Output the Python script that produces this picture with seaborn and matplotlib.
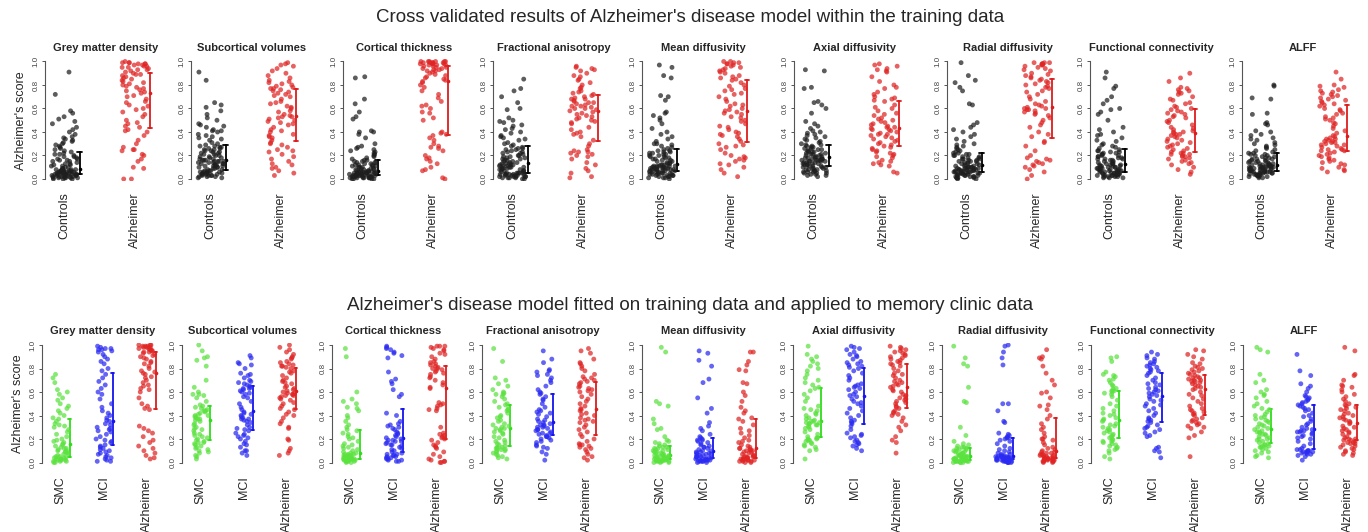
import numpy as np
import pandas as pd
import seaborn as sns
import matplotlib.pyplot as plt

# scores are typed in percent (0-100)

panel_titles = ['Grey matter density', 'Subcortical volumes', 'Cortical thickness',
                'Fractional anisotropy', 'Mean diffusivity', 'Axial diffusivity',
                'Radial diffusivity', 'Functional connectivity', 'ALFF']

top_groups = ['Controls', 'Alzheimer']
bottom_groups = ['SMC', 'MCI', 'Alzheimer']

top_title = "Cross validated results of Alzheimer's disease model within the training data"
bottom_title = ("Alzheimer's disease model fitted on training data and applied to "
                "memory clinic data")

# ---- top row: training data ----
gm_ctrl = [0, 0, 0, 1, 1, 1, 1, 1, 1, 2, 2, 2, 2, 2, 2, 3, 3, 3, 3, 3, 3, 4, 4, 4, 4,
           4, 4, 4, 5, 5, 5, 5, 5, 5, 6, 6, 6, 6, 6, 6, 7, 7, 7, 7, 7, 7, 8, 8, 8, 8,
           9, 9, 10, 10, 11, 11, 12, 12, 13, 13, 14, 15, 15, 16, 16, 17, 17, 18, 19, 19, 20, 21, 21, 22, 23,
           24, 25, 26, 27, 28, 29, 30, 31, 32, 33, 34, 35, 36, 38, 40, 42, 44, 47, 49, 51, 53, 56, 58, 72, 91]
gm_ad = [0, 0, 9, 10, 15, 17, 20, 21, 24, 25, 25, 27, 30, 33, 37, 40, 41, 42,
         44, 45, 47, 48, 50, 53, 55, 57, 59, 60, 62, 63, 65, 66, 68, 70, 71, 73,
         74, 75, 76, 77, 78, 79, 80, 81, 82, 83, 84, 85, 86, 87, 88, 89, 89, 90,
         91, 92, 93, 93, 94, 95, 95, 96, 96, 97, 97, 98, 98, 98, 99, 99, 99, 100]

sv_ctrl = [1, 1, 2, 2, 2, 3, 3, 3, 3, 4, 4, 4, 4, 5, 5, 5, 5, 6, 6, 6, 6, 7, 7, 7, 8,
           8, 9, 9, 10, 10, 10, 11, 11, 11, 12, 12, 12, 13, 13, 13, 14, 14, 14, 15, 15, 15, 15, 16, 16, 16,
           17, 17, 18, 18, 19, 19, 20, 20, 21, 21, 22, 22, 23, 23, 24, 24, 25, 25, 26, 26, 27, 27, 28, 28, 29,
           30, 31, 33, 34, 35, 36, 37, 38, 40, 41, 41, 42, 44, 45, 46, 47, 50, 52, 55, 58, 61, 63, 65, 84, 91]
sv_ad = [3, 5, 7, 9, 10, 12, 13, 15, 17, 19, 21, 23, 24, 25, 27, 29, 30, 31,
         33, 35, 36, 37, 38, 40, 41, 42, 44, 46, 47, 48, 49, 50, 51, 52, 53, 53,
         54, 55, 57, 58, 60, 61, 62, 64, 65, 66, 68, 70, 71, 72, 73, 74, 75, 76,
         77, 77, 78, 79, 80, 81, 82, 83, 84, 86, 88, 90, 92, 94, 96, 97, 98, 99]

ct_ctrl = [0, 0, 0, 0, 1, 1, 1, 1, 1, 1, 1, 2, 2, 2, 2, 2, 2, 2, 2, 3, 3, 3, 3, 3, 3,
           3, 3, 4, 4, 4, 4, 4, 4, 5, 5, 5, 5, 5, 5, 5, 6, 6, 6, 6, 6, 6, 6, 7, 7, 7,
           7, 8, 8, 8, 9, 9, 9, 10, 10, 10, 11, 11, 11, 12, 12, 12, 13, 13, 14, 14, 14, 15, 15, 16, 16,
           17, 18, 19, 20, 21, 22, 23, 24, 25, 26, 27, 28, 30, 35, 38, 40, 40, 41, 51, 53, 57, 64, 68, 86, 87]
ct_ad = [0, 1, 7, 8, 10, 13, 15, 17, 18, 20, 24, 26, 27, 28, 30, 33, 35, 37,
         38, 39, 40, 50, 52, 56, 57, 60, 62, 63, 66, 69, 72, 75, 78, 80, 82, 83,
         84, 85, 86, 87, 88, 89, 90, 91, 92, 92, 93, 93, 94, 94, 95, 95, 96, 96,
         97, 97, 97, 98, 98, 98, 98, 99, 99, 99, 99, 99, 100, 100, 100, 100, 100, 100]

fa_ctrl = [0, 0, 1, 1, 1, 1, 2, 2, 2, 2, 2, 3, 3, 3, 3, 3, 4, 4, 4, 4, 4, 5, 5, 5, 5,
           5, 6, 6, 7, 7, 7, 8, 8, 8, 9, 9, 9, 10, 10, 10, 11, 11, 11, 12, 12, 12, 13, 13, 13, 14,
           14, 15, 15, 16, 16, 17, 17, 18, 18, 19, 19, 20, 20, 21, 22, 22, 23, 23, 24, 25, 25, 26, 26, 27, 28,
           29, 30, 31, 33, 34, 35, 36, 37, 39, 40, 42, 43, 45, 46, 48, 49, 50, 52, 59, 60, 65, 70, 75, 77, 85]
fa_ad = [1, 2, 5, 7, 9, 12, 14, 17, 19, 20, 21, 22, 23, 23, 24, 25, 28, 30,
         33, 36, 38, 39, 40, 42, 44, 47, 48, 49, 50, 51, 52, 53, 54, 55, 56, 57,
         58, 59, 60, 60, 61, 62, 62, 63, 64, 65, 65, 66, 67, 68, 68, 69, 70, 71,
         72, 73, 74, 75, 77, 78, 80, 82, 84, 85, 87, 88, 90, 92, 93, 94, 95, 96]

md_ctrl = [0, 1, 1, 1, 2, 2, 2, 3, 3, 3, 3, 4, 4, 4, 4, 5, 5, 5, 5, 6, 6, 6, 6, 7, 7,
           7, 7, 8, 8, 8, 8, 8, 9, 9, 9, 9, 9, 10, 10, 10, 10, 10, 11, 11, 11, 11, 11, 12, 12, 12,
           13, 13, 14, 14, 15, 15, 16, 16, 17, 17, 18, 18, 19, 19, 20, 20, 21, 21, 22, 22, 23, 23, 24, 24, 25,
           26, 27, 28, 29, 30, 30, 32, 34, 36, 38, 40, 43, 47, 50, 52, 54, 56, 57, 67, 70, 71, 86, 88, 95, 97]
md_ad = [2, 5, 8, 10, 12, 13, 15, 16, 17, 18, 19, 20, 22, 25, 27, 28, 29, 30,
         32, 34, 36, 37, 38, 39, 40, 42, 44, 45, 47, 49, 50, 52, 53, 55, 56, 57,
         58, 59, 60, 62, 63, 64, 66, 68, 70, 72, 73, 75, 76, 77, 79, 80, 82, 84,
         85, 86, 87, 88, 90, 91, 92, 93, 94, 95, 96, 97, 98, 98, 99, 99, 100, 100]

axd_ctrl = [2, 3, 3, 4, 4, 5, 5, 5, 6, 6, 6, 7, 7, 7, 8, 8, 8, 9, 9, 9, 10, 10, 10, 11, 11,
            11, 12, 12, 12, 13, 13, 13, 14, 14, 14, 15, 15, 15, 15, 16, 16, 16, 16, 17, 17, 17, 17, 18, 18, 18,
            19, 19, 19, 20, 20, 21, 21, 21, 22, 22, 23, 23, 23, 24, 24, 25, 25, 26, 26, 27, 27, 28, 28, 29, 29,
            30, 31, 32, 33, 34, 35, 36, 37, 38, 39, 40, 41, 43, 45, 47, 49, 56, 60, 63, 65, 66, 77, 78, 92, 93]
axd_ad = [5, 6, 11, 12, 13, 14, 15, 16, 18, 19, 20, 21, 22, 23, 24, 25, 26, 27,
          28, 29, 30, 31, 32, 33, 34, 35, 36, 37, 38, 38, 39, 40, 41, 42, 42, 43,
          44, 44, 45, 46, 47, 48, 49, 50, 51, 52, 54, 55, 56, 58, 60, 61, 63, 66,
          67, 68, 69, 70, 72, 74, 77, 78, 80, 83, 87, 91, 92, 93, 94, 96, 97, 98]

rd_ctrl = [0, 0, 1, 1, 1, 1, 2, 2, 2, 2, 3, 3, 3, 3, 4, 4, 4, 4, 5, 5, 5, 5, 5, 6, 6,
           6, 6, 6, 7, 7, 7, 7, 7, 8, 8, 8, 8, 8, 9, 9, 9, 9, 9, 10, 10, 10, 10, 11, 11, 11,
           12, 12, 13, 13, 13, 14, 14, 15, 15, 15, 16, 16, 17, 17, 17, 18, 18, 19, 19, 20, 20, 21, 21, 22, 22,
           23, 24, 25, 26, 27, 28, 29, 30, 32, 34, 36, 38, 40, 42, 44, 46, 48, 63, 64, 75, 78, 82, 84, 88, 99]
rd_ad = [0, 3, 6, 8, 10, 11, 12, 13, 14, 15, 16, 17, 18, 20, 24, 28, 31, 32,
         36, 38, 40, 44, 46, 48, 50, 52, 54, 55, 56, 57, 58, 59, 59, 60, 60, 61,
         62, 63, 64, 66, 68, 70, 72, 74, 75, 77, 78, 79, 80, 81, 82, 83, 84, 85,
         86, 87, 88, 89, 90, 92, 93, 94, 95, 96, 97, 97, 98, 98, 98, 99, 99, 99]

fc_ctrl = [1, 1, 1, 2, 2, 2, 2, 3, 3, 3, 3, 3, 4, 4, 4, 4, 4, 5, 5, 5, 5, 5, 6, 6, 6,
           6, 7, 7, 7, 7, 8, 8, 8, 8, 9, 9, 9, 9, 10, 10, 10, 11, 11, 11, 11, 12, 12, 12, 13, 13,
           13, 14, 14, 15, 15, 16, 16, 17, 17, 17, 18, 18, 19, 19, 20, 20, 21, 21, 22, 22, 23, 23, 24, 24, 25,
           26, 27, 28, 29, 30, 32, 33, 35, 37, 38, 40, 42, 44, 50, 55, 57, 59, 60, 64, 67, 70, 77, 79, 86, 91]
fc_ad = [4, 6, 8, 10, 12, 13, 14, 15, 16, 17, 18, 19, 19, 20, 21, 21, 22, 22,
         23, 24, 25, 26, 27, 28, 29, 30, 31, 32, 33, 34, 35, 36, 37, 38, 38, 39,
         40, 40, 41, 42, 43, 44, 46, 48, 49, 50, 52, 53, 54, 55, 56, 57, 58, 59,
         60, 61, 62, 64, 65, 67, 68, 70, 72, 73, 74, 75, 76, 77, 78, 83, 86, 90]

alff_ctrl = [1, 1, 2, 2, 2, 3, 3, 3, 3, 4, 4, 4, 4, 5, 5, 5, 5, 5, 6, 6, 6, 6, 6, 7, 7,
             7, 7, 8, 8, 8, 8, 8, 9, 9, 9, 9, 9, 10, 10, 10, 10, 10, 11, 11, 11, 11, 11, 12, 12, 12,
             12, 13, 13, 13, 14, 14, 14, 15, 15, 15, 16, 16, 17, 17, 17, 18, 18, 19, 19, 20, 20, 21, 21, 22, 22,
             23, 24, 25, 26, 27, 28, 29, 30, 31, 33, 34, 35, 37, 38, 40, 41, 46, 47, 48, 55, 56, 68, 69, 79, 80]
alff_ad = [6, 7, 8, 9, 10, 12, 13, 14, 15, 16, 17, 18, 19, 20, 21, 22, 23, 24,
           24, 25, 25, 26, 27, 28, 29, 29, 30, 31, 31, 32, 32, 33, 34, 34, 35, 36,
           37, 39, 41, 43, 45, 47, 48, 50, 51, 52, 53, 55, 56, 58, 59, 60, 62, 63,
           64, 65, 66, 67, 68, 69, 70, 71, 72, 73, 74, 75, 76, 78, 79, 80, 85, 91]

# ---- bottom row: memory clinic data ----
gm_smc = [0, 0, 1, 1, 1, 2, 2, 2, 3, 3, 3, 4, 4, 4, 5,
          5, 6, 7, 7, 8, 9, 9, 10, 10, 11, 12, 12, 13, 14, 15,
          16, 17, 18, 19, 20, 22, 24, 26, 28, 30, 31, 32, 33, 35, 37,
          38, 40, 42, 44, 46, 48, 50, 53, 55, 58, 60, 62, 68, 72, 75]
gm_mci = [1, 1, 2, 3, 4, 5, 6, 7, 8, 9, 10, 11, 12, 13, 14,
          15, 17, 18, 19, 20, 22, 24, 26, 27, 28, 29, 30, 32, 33, 35,
          36, 38, 40, 42, 44, 47, 50, 54, 58, 60, 63, 66, 69, 72, 75,
          78, 80, 84, 86, 88, 90, 92, 94, 95, 96, 96, 97, 97, 98, 99]
gm_ad_mc = [3, 4, 6, 8, 10, 12, 14, 17, 19, 22, 25, 27, 29, 31, 45,
            46, 48, 50, 55, 60, 62, 63, 65, 66, 68, 70, 72, 73, 75, 76,
            77, 78, 80, 82, 84, 85, 86, 88, 89, 90, 91, 92, 93, 94, 94,
            95, 95, 96, 96, 97, 97, 98, 98, 98, 99, 99, 99, 100, 100, 100]

sv_smc = [3, 5, 6, 8, 9, 10, 11, 12, 13, 14, 15, 16, 17, 17, 18,
          19, 20, 21, 22, 23, 24, 25, 27, 28, 29, 30, 32, 33, 35, 36,
          37, 37, 38, 39, 40, 40, 41, 42, 43, 44, 44, 45, 46, 47, 48,
          49, 52, 55, 57, 58, 58, 60, 64, 70, 82, 87, 89, 90, 95, 100]
sv_mci = [6, 8, 10, 10, 13, 15, 16, 18, 20, 21, 22, 23, 24, 25, 27,
          28, 29, 30, 32, 34, 35, 36, 37, 37, 38, 39, 40, 41, 42, 43,
          45, 47, 50, 52, 55, 56, 58, 59, 60, 61, 62, 63, 63, 64, 65,
          66, 67, 68, 69, 70, 72, 74, 75, 76, 80, 83, 84, 85, 89, 91]
sv_ad_mc = [6, 8, 10, 12, 19, 20, 29, 30, 33, 35, 38, 40, 41, 43, 45,
            46, 48, 50, 51, 53, 54, 55, 56, 57, 57, 58, 58, 59, 59, 60,
            61, 62, 63, 64, 65, 67, 68, 69, 70, 72, 74, 76, 77, 78, 80,
            81, 82, 82, 83, 84, 85, 86, 88, 89, 90, 92, 94, 96, 98, 100]

ct_smc = [0, 0, 1, 1, 1, 1, 2, 2, 2, 2, 2, 3, 3, 3, 3,
          3, 4, 4, 4, 5, 5, 5, 6, 6, 6, 7, 7, 7, 8, 8,
          9, 10, 11, 12, 13, 14, 15, 16, 18, 20, 21, 22, 24, 25, 27,
          28, 30, 32, 35, 38, 40, 44, 46, 47, 50, 52, 54, 60, 90, 97]
ct_mci = [1, 1, 2, 2, 3, 3, 4, 4, 5, 5, 6, 6, 7, 7, 8,
          9, 10, 11, 12, 13, 14, 15, 15, 16, 17, 18, 18, 19, 19, 20,
          21, 22, 23, 24, 25, 26, 28, 29, 30, 31, 32, 33, 35, 40, 42,
          56, 58, 62, 67, 69, 71, 77, 89, 91, 93, 94, 96, 97, 98, 99]
ct_ad_mc = [0, 0, 1, 1, 2, 3, 5, 7, 9, 12, 13, 14, 15, 17, 19,
            20, 21, 22, 23, 24, 25, 30, 44, 45, 46, 48, 49, 50, 51, 63,
            64, 66, 68, 70, 72, 73, 75, 76, 77, 78, 79, 80, 80, 81, 82,
            83, 84, 85, 86, 88, 90, 92, 93, 95, 96, 97, 98, 99, 99, 99]

fa_smc = [3, 4, 5, 6, 7, 8, 9, 10, 10, 11, 11, 12, 12, 13, 13,
          14, 15, 16, 17, 18, 19, 21, 22, 24, 25, 26, 27, 28, 29, 29,
          30, 31, 32, 33, 35, 36, 38, 39, 40, 42, 44, 45, 46, 47, 49,
          50, 52, 54, 56, 58, 58, 59, 60, 62, 65, 67, 70, 72, 86, 97]
fa_mci = [2, 7, 9, 12, 13, 14, 15, 17, 18, 19, 20, 21, 22, 22, 23,
          24, 25, 25, 26, 27, 28, 28, 29, 30, 30, 31, 32, 32, 33, 34,
          35, 36, 37, 39, 41, 42, 43, 44, 45, 47, 50, 53, 54, 56, 58,
          59, 60, 62, 65, 68, 70, 72, 74, 75, 77, 78, 79, 85, 88, 95]
fa_ad_mc = [2, 4, 5, 7, 9, 11, 12, 13, 14, 15, 15, 16, 18, 20, 22,
            24, 26, 28, 30, 32, 34, 35, 36, 37, 38, 40, 41, 42, 44, 45,
            46, 48, 50, 52, 54, 56, 58, 60, 61, 62, 63, 64, 65, 67, 68,
            69, 70, 71, 72, 73, 75, 78, 80, 82, 84, 85, 88, 93, 95, 97]

md_smc = [0, 0, 0, 1, 1, 1, 1, 1, 2, 2, 2, 2, 2, 2, 2,
          3, 3, 3, 3, 4, 4, 4, 4, 5, 5, 5, 5, 6, 6, 6,
          7, 7, 8, 8, 9, 9, 10, 10, 11, 11, 12, 12, 13, 13, 14,
          15, 16, 17, 18, 19, 22, 28, 29, 33, 37, 48, 50, 52, 94, 98]
md_mci = [0, 0, 1, 1, 1, 1, 2, 2, 2, 2, 2, 3, 3, 3, 3,
          4, 4, 4, 5, 5, 5, 6, 6, 7, 7, 7, 8, 8, 9, 9,
          10, 10, 11, 12, 13, 13, 14, 15, 16, 17, 18, 19, 19, 20, 21,
          22, 24, 27, 29, 31, 34, 42, 46, 55, 68, 71, 82, 87, 93, 95]
md_ad_mc = [0, 0, 1, 1, 1, 2, 2, 2, 2, 3, 3, 3, 3, 4, 4,
            4, 5, 5, 5, 6, 6, 7, 8, 9, 9, 10, 10, 11, 11, 12,
            12, 13, 14, 15, 17, 18, 19, 21, 23, 25, 27, 29, 32, 35, 37,
            38, 42, 44, 47, 52, 57, 60, 67, 68, 78, 79, 83, 86, 94, 94]

axd_smc = [3, 10, 11, 13, 14, 15, 16, 17, 18, 19, 19, 20, 20, 21, 21,
           22, 24, 26, 28, 29, 30, 31, 32, 32, 33, 33, 34, 34, 35, 35,
           36, 37, 38, 40, 41, 42, 44, 45, 46, 48, 52, 55, 58, 61, 63,
           64, 66, 68, 70, 72, 75, 78, 80, 82, 84, 86, 88, 90, 92, 99]
axd_mci = [10, 12, 14, 15, 16, 17, 18, 19, 21, 22, 23, 24, 25, 28, 31,
           33, 34, 35, 36, 38, 40, 42, 44, 46, 48, 50, 51, 52, 54, 56,
           57, 58, 60, 62, 63, 64, 65, 66, 67, 70, 72, 74, 76, 78, 80,
           81, 82, 83, 84, 85, 86, 88, 90, 91, 92, 94, 96, 97, 98, 99]
axd_ad_mc = [8, 17, 19, 22, 27, 30, 32, 35, 38, 40, 41, 42, 43, 44, 46,
             47, 48, 50, 51, 52, 53, 54, 55, 56, 57, 58, 60, 61, 62, 64,
             65, 66, 67, 68, 69, 70, 72, 74, 75, 76, 78, 80, 82, 83, 84,
             85, 86, 87, 88, 89, 90, 91, 92, 93, 94, 95, 96, 97, 98, 99]

rd_smc = [0, 0, 0, 0, 1, 1, 1, 1, 1, 1, 2, 2, 2, 2, 2,
          2, 3, 3, 3, 3, 3, 4, 4, 4, 4, 4, 5, 5, 5, 5,
          6, 6, 6, 7, 7, 8, 8, 9, 9, 10, 10, 11, 11, 12, 12,
          13, 13, 14, 15, 16, 18, 23, 30, 51, 52, 64, 82, 84, 89, 99]
rd_mci = [0, 0, 0, 0, 1, 1, 1, 1, 1, 2, 2, 2, 2, 3, 3,
          3, 3, 3, 4, 4, 4, 4, 4, 4, 5, 5, 5, 5, 5, 5,
          6, 6, 7, 7, 8, 9, 10, 11, 12, 14, 16, 18, 19, 20, 21,
          21, 22, 23, 24, 25, 34, 35, 44, 50, 50, 83, 89, 94, 99, 100]
rd_ad_mc = [0, 0, 1, 1, 1, 1, 2, 2, 2, 2, 3, 3, 3, 3, 3,
            4, 4, 4, 5, 5, 5, 6, 6, 6, 7, 7, 8, 8, 9, 9,
            10, 11, 12, 13, 15, 17, 19, 20, 20, 22, 25, 28, 30, 33, 37,
            40, 45, 48, 49, 55, 59, 60, 66, 70, 76, 82, 88, 89, 90, 96]

fc_smc = [3, 5, 8, 10, 11, 12, 13, 14, 15, 16, 17, 18, 18, 19, 20,
          21, 22, 23, 24, 25, 26, 27, 28, 29, 30, 31, 32, 33, 35, 36,
          37, 38, 40, 41, 42, 44, 46, 48, 50, 53, 56, 58, 59, 60, 61,
          61, 62, 63, 65, 66, 68, 70, 71, 73, 74, 75, 77, 86, 89, 90]
fc_mci = [4, 9, 10, 12, 13, 22, 23, 25, 26, 28, 29, 30, 31, 32, 34,
          35, 36, 37, 38, 40, 42, 44, 46, 48, 49, 50, 52, 53, 54, 56,
          57, 58, 59, 60, 61, 62, 63, 64, 66, 67, 68, 70, 72, 74, 76,
          77, 78, 79, 80, 81, 82, 83, 84, 85, 86, 88, 89, 91, 92, 94]
fc_ad_mc = [5, 21, 23, 26, 29, 30, 31, 32, 33, 34, 35, 36, 37, 38, 40,
            41, 42, 43, 44, 45, 46, 48, 50, 52, 54, 55, 57, 58, 60, 62,
            63, 64, 65, 66, 67, 68, 69, 69, 70, 70, 71, 72, 72, 73, 74,
            75, 76, 77, 78, 79, 80, 81, 82, 84, 85, 88, 90, 92, 95, 96]

alff_smc = [4, 5, 6, 8, 9, 10, 11, 12, 13, 13, 14, 14, 15, 15, 16,
            17, 18, 19, 20, 20, 21, 22, 23, 24, 24, 25, 26, 26, 27, 28,
            29, 30, 31, 32, 33, 34, 35, 36, 37, 38, 39, 40, 41, 43, 45,
            46, 48, 50, 52, 55, 57, 58, 60, 62, 68, 70, 75, 94, 96, 98]
alff_mci = [2, 5, 6, 7, 7, 8, 8, 9, 9, 9, 10, 10, 10, 11, 11,
            12, 14, 16, 18, 20, 21, 22, 23, 24, 25, 26, 26, 27, 27, 28,
            29, 30, 32, 33, 35, 37, 39, 40, 42, 44, 45, 46, 47, 48, 49,
            50, 51, 52, 53, 54, 55, 56, 57, 60, 63, 65, 67, 74, 78, 92]
alff_ad_mc = [6, 7, 8, 9, 10, 11, 12, 13, 14, 15, 16, 16, 17, 17, 18,
              19, 19, 20, 20, 21, 22, 24, 25, 26, 27, 28, 29, 30, 31, 33,
              34, 35, 36, 37, 38, 39, 40, 41, 42, 44, 45, 46, 47, 48, 49,
              50, 52, 54, 56, 58, 60, 62, 64, 65, 66, 70, 74, 75, 95, 98]

top_data = [(gm_ctrl, gm_ad), (sv_ctrl, sv_ad), (ct_ctrl, ct_ad), (fa_ctrl, fa_ad),
            (md_ctrl, md_ad), (axd_ctrl, axd_ad), (rd_ctrl, rd_ad), (fc_ctrl, fc_ad),
            (alff_ctrl, alff_ad)]
bottom_data = [(gm_smc, gm_mci, gm_ad_mc), (sv_smc, sv_mci, sv_ad_mc),
               (ct_smc, ct_mci, ct_ad_mc), (fa_smc, fa_mci, fa_ad_mc),
               (md_smc, md_mci, md_ad_mc), (axd_smc, axd_mci, axd_ad_mc),
               (rd_smc, rd_mci, rd_ad_mc), (fc_smc, fc_mci, fc_ad_mc),
               (alff_smc, alff_mci, alff_ad_mc)]

point_colors = {'Controls': '#1e1e1e', 'SMC': '#5ae23e', 'MCI': '#2a2af2', 'Alzheimer': '#e02424'}
bar_colors = {'Controls': '#000000', 'SMC': '#2edc1a', 'MCI': '#1414ee', 'Alzheimer': '#dc1c1c'}

sns.set_style('white')
plt.rcParams['font.family'] = ['Liberation Sans', 'DejaVu Sans']

W, H = 1368, 532
fig = plt.figure(figsize=(W / 100, H / 100), dpi=100)
np.random.seed(7)

# left spine pixel positions of each panel (top row, bottom row)
top_left = [45, 191, 343, 493, 642, 794, 947, 1090, 1242]
bottom_left = [42, 182, 332, 482, 642, 793, 942, 1091, 1243]


def make_frame(groups, values):
    frames = []
    for i, (g, v) in enumerate(zip(groups, values)):
        frames.append(pd.DataFrame({'group': g, 'pos': i + 1,
                                    'score': np.array(v) / 100.0}))
    df = pd.concat(frames, ignore_index=True)
    df['bar_pos'] = df['pos'] + 0.21
    return df


def draw_panel(ax, df, groups, title, xlim, capsize, first):
    sns.stripplot(data=df, x='pos', y='score', hue='group', hue_order=groups,
                  palette=point_colors, native_scale=True, orient='x',
                  jitter=0.19, size=3.5, alpha=0.72, linewidth=0,
                  legend=False, ax=ax)
    n_before = len(ax.lines)
    sns.pointplot(data=df, x='bar_pos', y='score', hue='group', hue_order=groups,
                  palette=bar_colors, native_scale=True, orient='x',
                  estimator='median', errorbar=('pi', 50), capsize=capsize,
                  linestyle='none', marker='o',
                  err_kws={'linewidth': 1.3}, legend=False, ax=ax)
    # shrink the median dots to the small marks of the original
    for line in ax.lines[n_before:]:
        if line.get_marker() not in (None, 'None', ''):
            line.set_markersize(2.6)
            line.set_markeredgewidth(0)
    ax.set_xlim(*xlim)
    ax.set_ylim(-0.02, 1.02)
    for side in ['top', 'right', 'bottom']:
        ax.spines[side].set_visible(False)
    ax.spines['left'].set_bounds(0, 1)
    ax.spines['left'].set_color('#555555')
    ax.spines['left'].set_linewidth(0.8)
    ticks = [0, 0.2, 0.4, 0.6, 0.8, 1.0]
    ax.set_yticks(ticks, [f'{t:.1f}' for t in ticks])
    ax.tick_params(axis='y', left=True, length=2.5, width=0.7, color='#555555',
                   pad=1.5, labelsize=5.8, labelcolor='#444444', labelrotation=90)
    for lab in ax.get_yticklabels():
        lab.set_va('center')
    ax.set_xticks(range(1, len(groups) + 1), groups, rotation=90)
    ax.tick_params(axis='x', length=0, pad=8, labelsize=9)
    ax.set_xlabel('')
    ax.set_title(title, fontsize=8, fontweight='bold', pad=6)
    if first:
        ax.set_ylabel("Alzheimer's score", fontsize=9)
        ax.yaxis.set_label_coords(-0.15, 0.5)
    else:
        ax.set_ylabel('')
    ax.set_facecolor('none')


ax_w = 122 / W
ax_h = 1.04 * 117.5 / H
top_bottom = 1 - (179 + 0.02 * 117.5) / H
low_bottom = 1 - (462.5 + 0.02 * 117.5) / H

for i in range(9):
    ax = fig.add_axes([top_left[i] / W, top_bottom, ax_w, ax_h])
    df = make_frame(top_groups, top_data[i])
    draw_panel(ax, df, top_groups, panel_titles[i], (0.72, 2.45), 0.06, i == 0)

for i in range(9):
    ax = fig.add_axes([bottom_left[i] / W, low_bottom, ax_w, ax_h])
    df = make_frame(bottom_groups, bottom_data[i])
    draw_panel(ax, df, bottom_groups, panel_titles[i], (0.56, 3.4), 0.07, i == 0)

fig.text(690 / W, 1 - 18 / H, top_title, ha='center', va='center', fontsize=13.5)
fig.text(690 / W, 1 - 305 / H, bottom_title, ha='center', va='center', fontsize=13.5)

fig.savefig('out.png', dpi=100, facecolor='white')
